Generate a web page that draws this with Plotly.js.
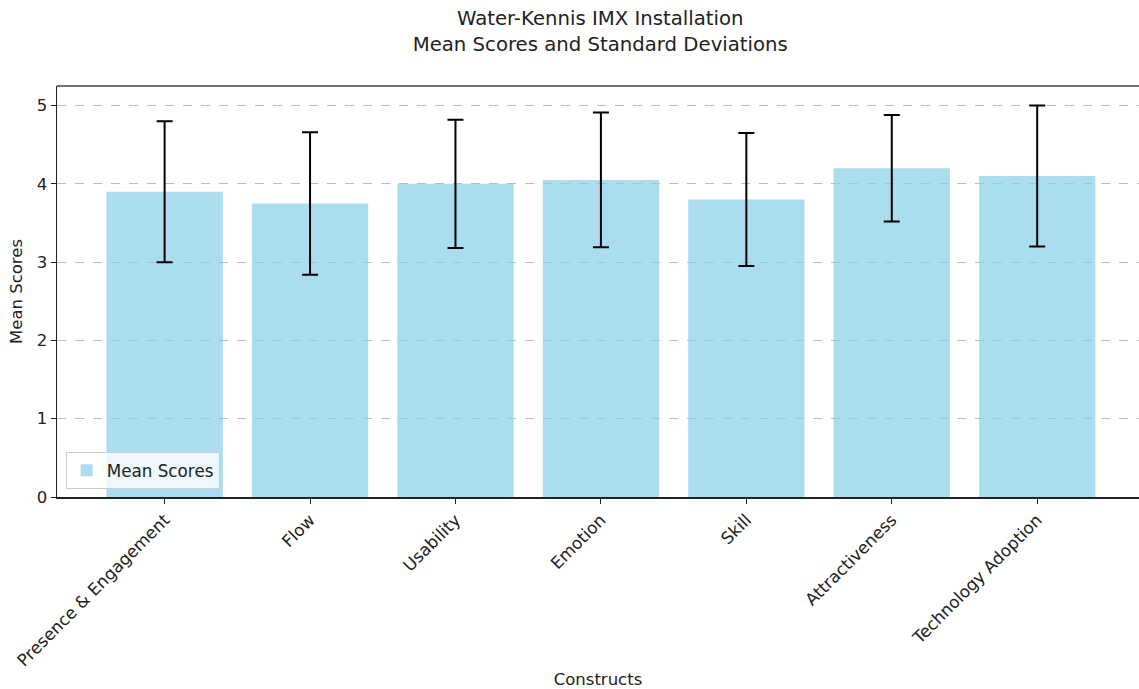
<!DOCTYPE html>
<html>
<head>
<meta charset="utf-8">
<script src="https://cdn.plot.ly/plotly-3.0.1.min.js"></script>
<style>html,body{margin:0;padding:0;background:#fff;}#chart{width:1139px;height:689px;}</style>
</head>
<body>
<div id="chart"></div>
<script>
const categories = ["Presence & Engagement", "Flow", "Usability", "Emotion", "Skill", "Attractiveness", "Technology Adoption"];
const meanScores = [3.90, 3.75, 4.00, 4.05, 3.80, 4.20, 4.10];
const stdDevs = [0.90, 0.91, 0.82, 0.86, 0.85, 0.68, 0.90];
const yTicks = [0, 1, 2, 3, 4, 5];

const font = "DejaVu Sans, sans-serif";

const trace = {
  type: "bar",
  x: categories.map((c, i) => i),
  y: meanScores,
  name: "Mean Scores",
  marker: { color: "rgba(135,206,235,0.7)", line: { width: 0 } },
  error_y: { type: "data", array: stdDevs, visible: true, color: "black", thickness: 2, width: 8 },
  showlegend: true,
  hoverinfo: "x+y"
};

const layout = {
  width: 1139,
  height: 689,
  margin: { l: 57, r: 0, t: 86, b: 192 },
  paper_bgcolor: "#fff",
  plot_bgcolor: "#fff",
  font: { family: font, size: 16, color: "#222" },
  bargap: 0.2,
  title: {
    text: "Water-Kennis IMX Installation<br>Mean Scores and Standard Deviations",
    font: { family: font, size: 19.7, color: "#222" },
    x: 0.527, xref: "container", xanchor: "center",
    y: 0.963, yanchor: "top"
  },
  xaxis: {
    range: [-0.74, 6.70],
    tickmode: "array",
    tickvals: categories.map((c, i) => i),
    ticktext: categories,
    tickangle: -45,
    ticks: "outside", ticklen: 5, tickwidth: 1, tickcolor: "#222",
    showline: true, linecolor: "#222", linewidth: 1.5,
    showgrid: false, zeroline: false,
    tickfont: { family: font, size: 16.8, color: "#222" },
    title: { text: "Constructs", font: { family: font, size: 16.5, color: "#222" }, standoff: 6 }
  },
  yaxis: {
    range: [0, 5.25],
    tickmode: "array",
    tickvals: yTicks,
    ticks: "outside", ticklen: 5, tickwidth: 1, tickcolor: "#222",
    showline: true, linecolor: "#222", linewidth: 1.5,
    showgrid: true, gridcolor: "rgba(160,160,160,0.7)", griddash: "dash", gridwidth: 1,
    zeroline: false,
    tickfont: { family: font, size: 16.5, color: "#222" },
    title: { text: "Mean Scores", font: { family: font, size: 16.5, color: "#222" }, standoff: 10 }
  },
  shapes: [
    { type: "line", xref: "paper", yref: "paper", x0: 0, x1: 1, y0: 1, y1: 1, line: { color: "#444", width: 1.5 } }
  ],
  legend: {
    x: 0.008, y: 0.02, xanchor: "left", yanchor: "bottom",
    bgcolor: "rgba(255,255,255,0.8)", bordercolor: "#ccc", borderwidth: 1,
    font: { family: font, size: 16.8, color: "#222" }
  }
};

Plotly.newPlot("chart", [trace], layout, { displayModeBar: false, staticPlot: true });
</script>
</body>
</html>
